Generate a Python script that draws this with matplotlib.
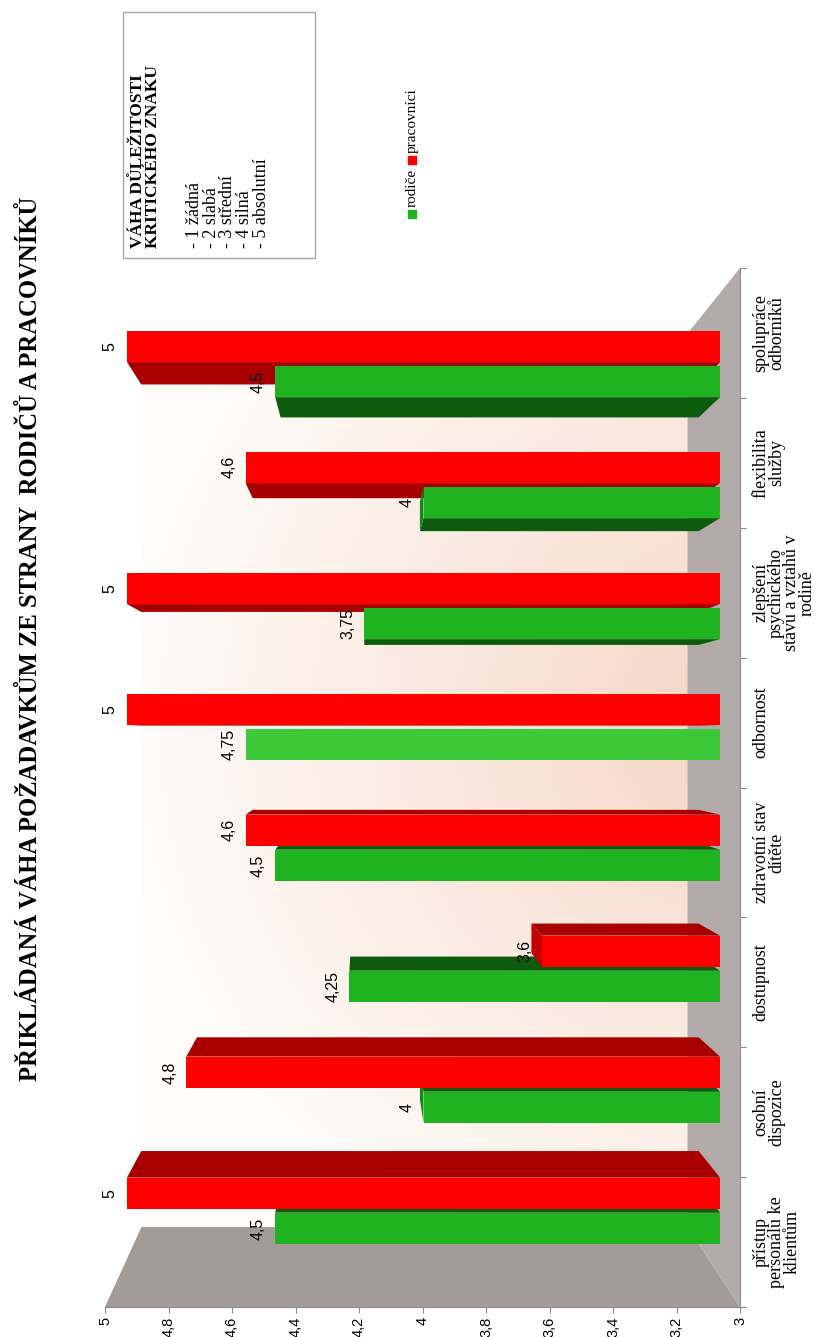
import numpy as np
import matplotlib.pyplot as plt
from matplotlib.patches import Polygon, Rectangle

plt.rc('font', family='Liberation Serif')

W, H = 834, 1337

kategorie = ['přístup\npersonálu ke\nklientům', 'osobní\ndispozice', 'dostupnost',
             'zdravotní stav\ndítěte', 'odbornost',
             'zlepšení\npsychického\nstavu a vztahů v\nrodině',
             'flexibilita\nslužby', 'spolupráce\nodborníků']
# delky sloupcu (popisky v grafu se u dvou sloupcu lisi)
rodice = [4.5, 4.0, 4.25, 4.5, 4.6, 4.2, 4.0, 4.5]
pracovnici = [5.0, 4.8, 3.6, 4.6, 5.0, 5.0, 4.6, 5.0]
popisky_rodice = ['4,5', '4', '4,25', '4,5', '4,75', '3,75', '4', '4,5']
popisky_pracovnici = ['5', '4,8', '3,6', '4,6', '5', '5', '4,6', '5']
osa_hodnoty = [3.0, 3.2, 3.4, 3.6, 3.8, 4.0, 4.2, 4.4, 4.6, 4.8, 5.0]
osa_popisky = ['3', '3,2', '3,4', '3,6', '3,8', '4', '4,2', '4,4', '4,6', '4,8', '5']

nadpis = 'PŘIKLÁDANÁ VÁHA POŽADAVKŮM ZE STRANY  RODIČŮ A PRACOVNÍKŮ'


def okno(x0, y0, x1, y1):
    # pixely (pocatek vlevo nahore) -> zlomky figury
    return [x0 / W, 1 - y1 / H, (x1 - x0) / W, (y1 - y0) / H]


def dozadu(bod, vp, s):
    # perspektiva: posun bodu smerem k ubeznemu bodu
    return (vp[0] + s * (bod[0] - vp[0]), vp[1] + s * (bod[1] - vp[1]))


fig = plt.figure(figsize=(W / 100, H / 100), dpi=100)

# predni osy: hodnoty dole, kategorie vpravo (graf je otoceny)
ax = fig.add_axes(okno(105, 268, 740, 1307))
ax.set_xlim(5, 3)
ax.set_ylim(0, 8)
ax.patch.set_visible(False)
for s in ['top', 'left']:
    ax.spines[s].set_visible(False)
for s in ['bottom', 'right']:
    ax.spines[s].set_color('#8c8c8c')
    ax.spines[s].set_linewidth(0.8)
ax.set_xticks(osa_hodnoty)
ax.set_xticklabels(osa_popisky, rotation=90, fontsize=10.5, family='Liberation Sans')
ax.tick_params(axis='x', length=4, color='#8c8c8c', pad=3)
ax.yaxis.tick_right()
ax.set_yticks(range(9))
ax.set_yticklabels([])
ax.set_yticks(np.arange(8) + 0.5, minor=True)
ax.set_yticklabels(kategorie, minor=True, rotation=90, va='center', ha='left',
                   multialignment='center', fontsize=13, linespacing=0.88)
ax.tick_params(axis='y', which='major', length=4, color='#8c8c8c')
ax.tick_params(axis='y', which='minor', length=0, pad=9)

# steny a podlaha
VP_F = (4.18, 4.40)
S_W = 0.86
a, b, c, d = (5, 0), (3, 0), (3, 8), (5, 8)
ax.add_patch(Polygon([a, b, dozadu(b, VP_F, S_W), dozadu(a, VP_F, S_W)],
                     color='#a39b98', lw=0, clip_on=False, zorder=1))
ax.add_patch(Polygon([b, c, dozadu(c, VP_F, S_W), dozadu(b, VP_F, S_W)],
                     color='#b2aba9', lw=0, clip_on=False, zorder=1))

# zadni stena s prechodem
v_l, c_b = dozadu(a, VP_F, S_W)
v_r, c_t = dozadu(c, VP_F, S_W)
vv, cc = np.meshgrid(np.linspace(v_l, v_r, 200), np.linspace(c_b, c_t, 200))
r = np.sqrt(((vv - 3.0) * 317) ** 2 + ((cc - 4.5) * 130) ** 2) / 620
r = np.clip(r, 0, 1)[..., None]
stred = np.array([0.965, 0.835, 0.77])
okraj = np.array([1.0, 0.99, 0.98])
ax.imshow(stred * (1 - r) + okraj * r, extent=(v_l, v_r, c_b, c_t), origin='lower',
          aspect='auto', zorder=0.5)
ax.set_xlim(5, 3)
ax.set_ylim(0, 8)

# sloupce (3D kvadry)
ax2 = fig.add_axes(okno(127, 304, 720, 1272))
ax2.set_xlim(5, 3)
ax2.set_ylim(0, 8)
ax2.axis('off')

VP_B = (4.20, 4.44)
S_B = 0.94
h = 0.26
sloupce = []
for i in range(len(kategorie)):
    zelena = '#3cc93a' if i == 4 else '#1fb31f'   # odbornost je v originale svetlejsi
    sloupce.append((i + 0.36, rodice[i], popisky_rodice[i], zelena, '#0d5c0d', '#148a14'))
    sloupce.append((i + 0.65, pracovnici[i], popisky_pracovnici[i], '#ff0000', '#a80000', '#c40000'))
sloupce.sort(key=lambda s: -abs(s[0] - VP_B[1]))

for yc, v, txt, barva, bok, vrch in sloupce:
    c0, c1 = yc - h / 2, yc + h / 2
    if c1 < VP_B[1]:
        ax2.add_patch(Polygon([(v, c1), (3, c1), dozadu((3, c1), VP_B, S_B), dozadu((v, c1), VP_B, S_B)],
                              color=bok, lw=0))
    if c0 > VP_B[1]:
        ax2.add_patch(Polygon([(v, c0), (3, c0), dozadu((3, c0), VP_B, S_B), dozadu((v, c0), VP_B, S_B)],
                              color=bok, lw=0))
    if v < VP_B[0]:
        ax2.add_patch(Polygon([(v, c0), (v, c1), dozadu((v, c1), VP_B, S_B), dozadu((v, c0), VP_B, S_B)],
                              color=vrch, lw=0))
    ax2.barh(yc, v - 3, left=3, height=h, color=barva, lw=0)
    ax2.annotate(txt, (v, yc), xytext=(-12, 0), textcoords='offset points', rotation=90,
                 ha='center', va='center', fontsize=11.5, family='Liberation Sans', zorder=5)

# nadpis
fig.text(30 / W, 1 - 639 / H, nadpis, rotation=90, ha='center', va='center',
         fontsize=17.7, fontweight='bold')

# ramecek s vysvetlivkou
fig.add_artist(Rectangle((123 / W, 1 - 258 / H), (315 - 123) / W, (258 - 12) / H,
                         transform=fig.transFigure, fill=False, ec='#a8a8a8', lw=1))
fig.text(130 / W, 1 - 248 / H, 'VÁHA DŮLEŽITOSTI\nKRITICKÉHO ZNAKU', rotation=90,
         ha='left', va='bottom', fontsize=12.5, fontweight='bold', linespacing=0.92)
fig.text(186 / W, 1 - 248 / H, '- 1 žádná\n- 2 slabá\n- 3 střední\n- 4 silná\n- 5 absolutní',
         rotation=90, ha='left', va='bottom', fontsize=13, linespacing=0.98)

# legenda
for yc, barva, txt in [(214, '#1fb31f', 'rodiče'), (160, '#ff0000', 'pracovníci')]:
    fig.add_artist(Rectangle(((412 - 4) / W, 1 - (yc + 4) / H), 8 / W, 8 / H,
                             transform=fig.transFigure, color=barva))
    fig.text(412 / W, 1 - (yc - 7) / H, txt, rotation=90, ha='center', va='bottom', fontsize=11)

fig.savefig('out.png', dpi=100)
